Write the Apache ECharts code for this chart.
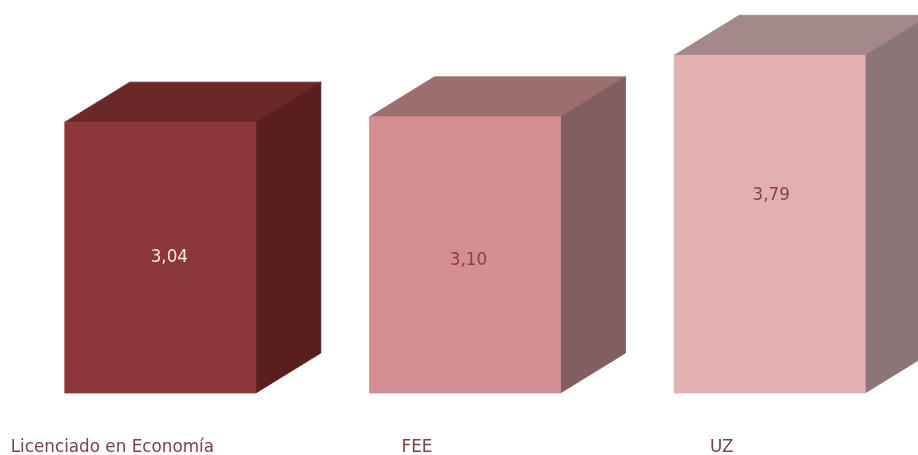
<!DOCTYPE html>
<html><head><meta charset="utf-8">
<style>html,body{margin:0;padding:0;background:#fff}#c{width:918px;height:455px}</style>
<script src="https://cdn.jsdelivr.net/npm/echarts@6/dist/echarts.min.js"></script>
</head><body><div id="c"></div>
<script>
var categories = ['Licenciado en Economía', 'FEE', 'UZ'];
var values = [3.04, 3.10, 3.79];
var valueLabels = ['3,04', '3,10', '3,79'];

var frontColors = ['#8c3737', '#d48d90', '#e3b0b2'];
var topColors = ['#6b2828', '#9c6e70', '#a48789'];
var sideColors = ['#5a1e1e', '#825e60', '#8a7578'];
var labelColors = ['#f3e6e6', '#8c3f45', '#8c3f45'];
var labelShift = [[9, 0], [3.5, 6], [1.5, -29]];
var DEPTH_X = 65, DEPTH_Y = 40, BAR_RATIO = 0.627;
var FONT = '"DejaVu Sans", sans-serif';

var chart = echarts.init(document.getElementById('c'), null, {renderer: 'canvas'});
chart.setOption({
  animation: false,
  backgroundColor: '#ffffff',
  grid: {left: 8, right: -4, top: 36.6, bottom: 62, outerBoundsMode: 'none'},
  xAxis: {
    type: 'category', data: categories,
    axisLine: {show: false}, axisTick: {show: false}, splitLine: {show: false},
    axisLabel: {
      color: '#7a3f47', fontFamily: FONT, fontSize: 16.8, margin: 46,
      padding: [0, 96, 0, 0], interval: 0, hideOverlap: false
    }
  },
  yAxis: {type: 'value', min: 0, max: 4, show: false},
  series: [{
    type: 'custom',
    clip: false,
    data: values.map(function (v, i) { return [i, v]; }),
    encode: {x: 0, y: 1},
    renderItem: function (params, api) {
      var i = api.value(0);
      var top = api.coord([i, api.value(1)]);
      var base = api.coord([i, 0]);
      var w = api.size([1, 0])[0] * BAR_RATIO;
      var l = top[0] - w / 2, r = top[0] + w / 2, t = top[1], b = base[1];
      function poly(points, fill) {
        return {type: 'polygon', shape: {points: points}, style: {fill: fill, stroke: fill, lineWidth: 0.8}};
      }
      return {type: 'group', children: [
        poly([[l, t], [r, t], [r + DEPTH_X, t - DEPTH_Y], [l + DEPTH_X, t - DEPTH_Y]], topColors[i]),
        poly([[r, t], [r + DEPTH_X, t - DEPTH_Y], [r + DEPTH_X, b - DEPTH_Y], [r, b]], sideColors[i]),
        poly([[l, t], [r, t], [r, b], [l, b]], frontColors[i]),
        {type: 'text', style: {
          x: top[0] + labelShift[i][0], y: (t + b) / 2 + labelShift[i][1],
          text: valueLabels[i], fill: labelColors[i],
          font: '16.8px ' + FONT, textAlign: 'center', textVerticalAlign: 'middle'
        }}
      ]};
    }
  }]
});
</script></body></html>
